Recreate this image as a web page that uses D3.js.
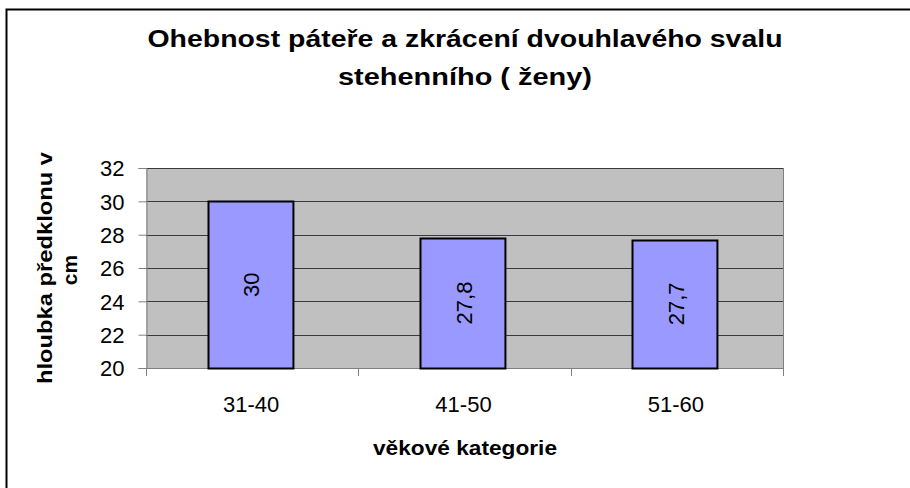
<!DOCTYPE html>
<html>
<head>
<meta charset="utf-8">
<script src="https://cdn.jsdelivr.net/npm/d3@7"></script>
<style>
  body { margin: 0; background: white; }
  text { font-family: "Liberation Sans", Arial, sans-serif; }
</style>
</head>
<body>
<div id="chart"></div>
<script>
let w = 910;
let h = 488;

// data
let categories = ["31-40", "41-50", "51-60"];
let values = [30, 27.8, 27.7];
let valueLabels = ["30", "27,8", "27,7"];
let yTicks = [20, 22, 24, 26, 28, 30, 32];

let plot = { left: 146, top: 168, right: 783, bottom: 368 };

let svg = d3.select("#chart")
  .append("svg")
  .attr("width", w)
  .attr("height", h);

// outer chart border (runs off to the right and bottom)
svg.append("rect")
  .attr("x", 6.5)
  .attr("y", 9.5)
  .attr("width", 920)
  .attr("height", 500)
  .attr("fill", "white")
  .attr("stroke", "black")
  .attr("stroke-width", 2);

let xScale = d3.scaleBand()
  .domain(categories)
  .range([plot.left, plot.right])
  .paddingInner(0.6)
  .paddingOuter(0.3);

let yScale = d3.scaleLinear()
  .domain([20, 32])
  .range([plot.bottom, plot.top]);

// plot background
svg.append("rect")
  .attr("x", plot.left)
  .attr("y", plot.top)
  .attr("width", plot.right - plot.left)
  .attr("height", plot.bottom - plot.top)
  .attr("fill", "#c0c0c0");

// gridlines
svg.append("g")
  .selectAll("line")
  .data(yTicks)
  .join("line")
  .attr("x1", plot.left)
  .attr("x2", plot.right)
  .attr("y1", d => Math.round(yScale(d)) + 0.5)
  .attr("y2", d => Math.round(yScale(d)) + 0.5)
  .attr("stroke", "#3a3a3a")
  .attr("stroke-width", 1);

// right edge of plot area
svg.append("line")
  .attr("x1", plot.right + 0.5).attr("x2", plot.right + 0.5)
  .attr("y1", plot.top).attr("y2", plot.bottom)
  .attr("stroke", "#808080");

// y axis
let yAxis = d3.axisLeft(yScale).tickValues(yTicks).tickSize(8).tickPadding(14);
let yAxisGroup = svg.append("g")
  .attr("transform", "translate(" + (plot.left + 0.5) + ",0)")
  .call(yAxis);
yAxisGroup.select(".domain").attr("stroke", "#808080");
yAxisGroup.selectAll(".tick line").attr("stroke", "#808080");
yAxisGroup.selectAll(".tick text")
  .attr("font-size", 22)
  .attr("font-family", "Liberation Sans, Arial, sans-serif")
  .attr("dy", "0.36em")
  .attr("fill", "black");

// x axis: ticks between categories
let bounds = [0, 1, 2, 3].map(i => plot.left + i * (plot.right - plot.left) / 3);
svg.append("line")
  .attr("x1", plot.left).attr("x2", plot.right)
  .attr("y1", plot.bottom + 0.5).attr("y2", plot.bottom + 0.5)
  .attr("stroke", "#808080");
svg.append("g")
  .selectAll("line")
  .data(bounds)
  .join("line")
  .attr("x1", d => Math.round(d) + 0.5)
  .attr("x2", d => Math.round(d) + 0.5)
  .attr("y1", plot.bottom)
  .attr("y2", plot.bottom + 8)
  .attr("stroke", "#808080");

svg.append("g")
  .selectAll("text")
  .data(categories)
  .join("text")
  .attr("x", d => xScale(d) + xScale.bandwidth() / 2 - 1)
  .attr("y", 412)
  .attr("text-anchor", "middle")
  .attr("font-size", 22)
  .text(d => d);

// bars
let bars = svg.append("g")
  .selectAll("g")
  .data(categories)
  .join("g");

bars.append("rect")
  .attr("x", d => Math.round(xScale(d)) - 1.5)
  .attr("y", (d, i) => Math.round(yScale(values[i])) + 0.5)
  .attr("width", xScale.bandwidth())
  .attr("height", (d, i) => Math.round(yScale(20)) - Math.round(yScale(values[i])))
  .attr("fill", "#9999ff")
  .attr("stroke", "black")
  .attr("stroke-width", 2);

bars.append("text")
  .attr("transform", (d, i) => {
    let x = xScale(d) + xScale.bandwidth() / 2 - 1;
    let y = (yScale(values[i]) + yScale(20)) / 2;
    return "translate(" + (x + 8) + "," + y + ") rotate(-90)";
  })
  .attr("text-anchor", "middle")
  .attr("font-size", 22)
  .text((d, i) => valueLabels[i]);

// title
let title = svg.append("text")
  .attr("text-anchor", "middle")
  .attr("font-size", 23)
  .attr("font-weight", "bold");
title.append("tspan").attr("x", 465).attr("y", 47)
  .attr("textLength", 635).attr("lengthAdjust", "spacingAndGlyphs")
  .text("Ohebnost páteře a zkrácení dvouhlavého svalu");
title.append("tspan").attr("x", 465).attr("y", 85)
  .attr("textLength", 254).attr("lengthAdjust", "spacingAndGlyphs")
  .text("stehenního ( ženy)");

// y axis title
let yTitle = svg.append("text")
  .attr("transform", "translate(0," + ((plot.top + plot.bottom) / 2) + ") rotate(-90)")
  .attr("text-anchor", "middle")
  .attr("font-size", 21)
  .attr("font-weight", "bold");
yTitle.append("tspan").attr("x", 0).attr("y", 52)
  .attr("textLength", 232).attr("lengthAdjust", "spacingAndGlyphs")
  .text("hloubka předklonu v");
yTitle.append("tspan").attr("x", -2).attr("y", 77).text("cm");

// x axis title
svg.append("text")
  .attr("x", 465)
  .attr("y", 455)
  .attr("text-anchor", "middle")
  .attr("font-size", 21)
  .attr("font-weight", "bold")
  .attr("textLength", 184).attr("lengthAdjust", "spacingAndGlyphs")
  .text("věkové kategorie");
</script>
</body>
</html>
